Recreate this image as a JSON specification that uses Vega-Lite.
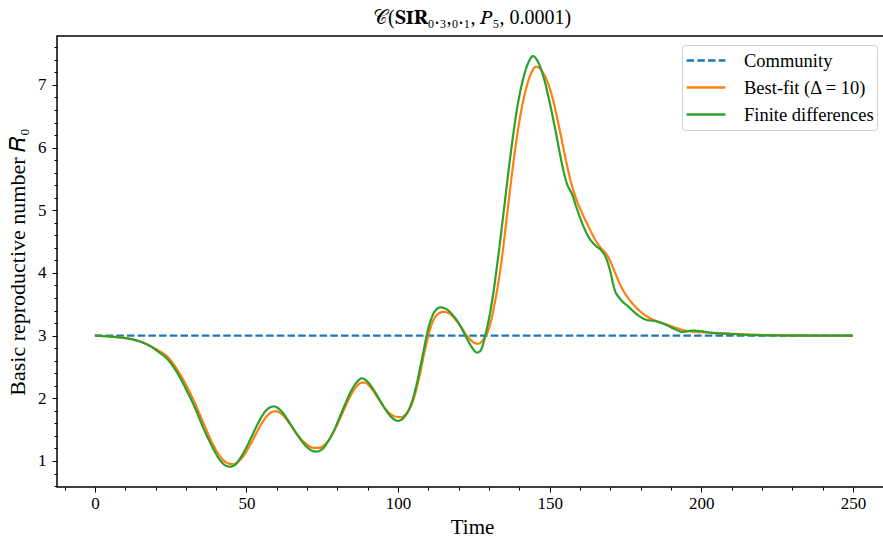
{
  "$schema": "https://vega.github.io/schema/vega-lite/v6.json",
  "autosize": {"type": "none"},
  "padding": {"left": 57, "top": 36, "right": 0, "bottom": 50},
  "width": 830,
  "height": 451,
  "background": "white",
  "config": {
    "view": {"stroke": "black", "strokeWidth": 1.5},
    "font": "Liberation Serif"
  },
  "title": {
    "text": "𝒞(𝐒𝐈𝐑₀.₃,₀.₁, 𝑃₅, 0.0001)",
    "font": "Liberation Serif",
    "fontSize": 20,
    "fontWeight": "normal",
    "anchor": "middle",
    "offset": 8,
    "color": "black"
  },
  "datasets": {
    "curves": [
      {"series": "Community", "t": 0, "R": 3.0},
      {"series": "Community", "t": 250, "R": 3.0},
      {"series": "Best-fit (Δ = 10)", "t": 0, "R": 3.0},
      {"series": "Best-fit (Δ = 10)", "t": 5, "R": 2.985},
      {"series": "Best-fit (Δ = 10)", "t": 10, "R": 2.96},
      {"series": "Best-fit (Δ = 10)", "t": 14, "R": 2.92},
      {"series": "Best-fit (Δ = 10)", "t": 18, "R": 2.84},
      {"series": "Best-fit (Δ = 10)", "t": 21, "R": 2.76},
      {"series": "Best-fit (Δ = 10)", "t": 24, "R": 2.66},
      {"series": "Best-fit (Δ = 10)", "t": 27, "R": 2.47},
      {"series": "Best-fit (Δ = 10)", "t": 30, "R": 2.22},
      {"series": "Best-fit (Δ = 10)", "t": 33, "R": 1.92},
      {"series": "Best-fit (Δ = 10)", "t": 36, "R": 1.58},
      {"series": "Best-fit (Δ = 10)", "t": 39, "R": 1.26},
      {"series": "Best-fit (Δ = 10)", "t": 42, "R": 1.03},
      {"series": "Best-fit (Δ = 10)", "t": 44, "R": 0.96},
      {"series": "Best-fit (Δ = 10)", "t": 45.5, "R": 0.95},
      {"series": "Best-fit (Δ = 10)", "t": 47, "R": 0.98},
      {"series": "Best-fit (Δ = 10)", "t": 49, "R": 1.08},
      {"series": "Best-fit (Δ = 10)", "t": 51, "R": 1.24},
      {"series": "Best-fit (Δ = 10)", "t": 53, "R": 1.42},
      {"series": "Best-fit (Δ = 10)", "t": 55, "R": 1.6},
      {"series": "Best-fit (Δ = 10)", "t": 57, "R": 1.73},
      {"series": "Best-fit (Δ = 10)", "t": 59, "R": 1.79},
      {"series": "Best-fit (Δ = 10)", "t": 60, "R": 1.79},
      {"series": "Best-fit (Δ = 10)", "t": 62, "R": 1.73},
      {"series": "Best-fit (Δ = 10)", "t": 64, "R": 1.61},
      {"series": "Best-fit (Δ = 10)", "t": 66, "R": 1.47},
      {"series": "Best-fit (Δ = 10)", "t": 68, "R": 1.35},
      {"series": "Best-fit (Δ = 10)", "t": 70, "R": 1.26},
      {"series": "Best-fit (Δ = 10)", "t": 72, "R": 1.21},
      {"series": "Best-fit (Δ = 10)", "t": 74, "R": 1.21},
      {"series": "Best-fit (Δ = 10)", "t": 76, "R": 1.27},
      {"series": "Best-fit (Δ = 10)", "t": 78, "R": 1.4},
      {"series": "Best-fit (Δ = 10)", "t": 80, "R": 1.59},
      {"series": "Best-fit (Δ = 10)", "t": 82, "R": 1.8},
      {"series": "Best-fit (Δ = 10)", "t": 84, "R": 2.01},
      {"series": "Best-fit (Δ = 10)", "t": 86, "R": 2.17},
      {"series": "Best-fit (Δ = 10)", "t": 88, "R": 2.25},
      {"series": "Best-fit (Δ = 10)", "t": 89, "R": 2.25},
      {"series": "Best-fit (Δ = 10)", "t": 91, "R": 2.17},
      {"series": "Best-fit (Δ = 10)", "t": 93, "R": 2.03},
      {"series": "Best-fit (Δ = 10)", "t": 95, "R": 1.88},
      {"series": "Best-fit (Δ = 10)", "t": 97, "R": 1.77},
      {"series": "Best-fit (Δ = 10)", "t": 99, "R": 1.71},
      {"series": "Best-fit (Δ = 10)", "t": 101, "R": 1.7},
      {"series": "Best-fit (Δ = 10)", "t": 103, "R": 1.77},
      {"series": "Best-fit (Δ = 10)", "t": 105, "R": 1.97},
      {"series": "Best-fit (Δ = 10)", "t": 107, "R": 2.34},
      {"series": "Best-fit (Δ = 10)", "t": 109, "R": 2.8},
      {"series": "Best-fit (Δ = 10)", "t": 111, "R": 3.17},
      {"series": "Best-fit (Δ = 10)", "t": 113, "R": 3.34},
      {"series": "Best-fit (Δ = 10)", "t": 115, "R": 3.38},
      {"series": "Best-fit (Δ = 10)", "t": 117, "R": 3.35},
      {"series": "Best-fit (Δ = 10)", "t": 119, "R": 3.25},
      {"series": "Best-fit (Δ = 10)", "t": 121, "R": 3.12},
      {"series": "Best-fit (Δ = 10)", "t": 123, "R": 2.98},
      {"series": "Best-fit (Δ = 10)", "t": 125, "R": 2.89},
      {"series": "Best-fit (Δ = 10)", "t": 126.5, "R": 2.87},
      {"series": "Best-fit (Δ = 10)", "t": 128, "R": 2.93},
      {"series": "Best-fit (Δ = 10)", "t": 130, "R": 3.12},
      {"series": "Best-fit (Δ = 10)", "t": 132, "R": 3.55},
      {"series": "Best-fit (Δ = 10)", "t": 134, "R": 4.15},
      {"series": "Best-fit (Δ = 10)", "t": 136, "R": 4.95},
      {"series": "Best-fit (Δ = 10)", "t": 138, "R": 5.75},
      {"series": "Best-fit (Δ = 10)", "t": 140, "R": 6.42},
      {"series": "Best-fit (Δ = 10)", "t": 142, "R": 6.9},
      {"series": "Best-fit (Δ = 10)", "t": 144, "R": 7.2},
      {"series": "Best-fit (Δ = 10)", "t": 145.5, "R": 7.29},
      {"series": "Best-fit (Δ = 10)", "t": 147, "R": 7.25},
      {"series": "Best-fit (Δ = 10)", "t": 149, "R": 7.08},
      {"series": "Best-fit (Δ = 10)", "t": 151, "R": 6.78},
      {"series": "Best-fit (Δ = 10)", "t": 153, "R": 6.35},
      {"series": "Best-fit (Δ = 10)", "t": 155, "R": 5.88},
      {"series": "Best-fit (Δ = 10)", "t": 157, "R": 5.45},
      {"series": "Best-fit (Δ = 10)", "t": 159, "R": 5.15},
      {"series": "Best-fit (Δ = 10)", "t": 161, "R": 4.92},
      {"series": "Best-fit (Δ = 10)", "t": 163, "R": 4.72},
      {"series": "Best-fit (Δ = 10)", "t": 165, "R": 4.53},
      {"series": "Best-fit (Δ = 10)", "t": 167, "R": 4.39},
      {"series": "Best-fit (Δ = 10)", "t": 169, "R": 4.28},
      {"series": "Best-fit (Δ = 10)", "t": 171, "R": 4.07},
      {"series": "Best-fit (Δ = 10)", "t": 173, "R": 3.84},
      {"series": "Best-fit (Δ = 10)", "t": 175, "R": 3.66},
      {"series": "Best-fit (Δ = 10)", "t": 177, "R": 3.53},
      {"series": "Best-fit (Δ = 10)", "t": 180, "R": 3.38},
      {"series": "Best-fit (Δ = 10)", "t": 183, "R": 3.28},
      {"series": "Best-fit (Δ = 10)", "t": 186, "R": 3.22},
      {"series": "Best-fit (Δ = 10)", "t": 189, "R": 3.17},
      {"series": "Best-fit (Δ = 10)", "t": 192, "R": 3.12},
      {"series": "Best-fit (Δ = 10)", "t": 195, "R": 3.08},
      {"series": "Best-fit (Δ = 10)", "t": 198, "R": 3.06},
      {"series": "Best-fit (Δ = 10)", "t": 202, "R": 3.05},
      {"series": "Best-fit (Δ = 10)", "t": 206, "R": 3.04},
      {"series": "Best-fit (Δ = 10)", "t": 210, "R": 3.03},
      {"series": "Best-fit (Δ = 10)", "t": 215, "R": 3.02},
      {"series": "Best-fit (Δ = 10)", "t": 220, "R": 3.01},
      {"series": "Best-fit (Δ = 10)", "t": 230, "R": 3.005},
      {"series": "Best-fit (Δ = 10)", "t": 240, "R": 3.0},
      {"series": "Best-fit (Δ = 10)", "t": 250, "R": 3.0},
      {"series": "Finite differences", "t": 0, "R": 3.0},
      {"series": "Finite differences", "t": 5, "R": 2.985},
      {"series": "Finite differences", "t": 10, "R": 2.96},
      {"series": "Finite differences", "t": 14, "R": 2.92},
      {"series": "Finite differences", "t": 18, "R": 2.84},
      {"series": "Finite differences", "t": 21, "R": 2.74},
      {"series": "Finite differences", "t": 24, "R": 2.62},
      {"series": "Finite differences", "t": 27, "R": 2.42},
      {"series": "Finite differences", "t": 30, "R": 2.15},
      {"series": "Finite differences", "t": 33, "R": 1.85},
      {"series": "Finite differences", "t": 36, "R": 1.5},
      {"series": "Finite differences", "t": 39, "R": 1.2},
      {"series": "Finite differences", "t": 41, "R": 1.03},
      {"series": "Finite differences", "t": 43, "R": 0.93},
      {"series": "Finite differences", "t": 44.5, "R": 0.91},
      {"series": "Finite differences", "t": 46, "R": 0.93},
      {"series": "Finite differences", "t": 48, "R": 1.05},
      {"series": "Finite differences", "t": 50, "R": 1.22},
      {"series": "Finite differences", "t": 52, "R": 1.42},
      {"series": "Finite differences", "t": 54, "R": 1.62},
      {"series": "Finite differences", "t": 56, "R": 1.78},
      {"series": "Finite differences", "t": 58, "R": 1.86},
      {"series": "Finite differences", "t": 59, "R": 1.87},
      {"series": "Finite differences", "t": 61, "R": 1.82},
      {"series": "Finite differences", "t": 63, "R": 1.7},
      {"series": "Finite differences", "t": 65, "R": 1.55},
      {"series": "Finite differences", "t": 67, "R": 1.4},
      {"series": "Finite differences", "t": 69, "R": 1.27},
      {"series": "Finite differences", "t": 71, "R": 1.18},
      {"series": "Finite differences", "t": 73, "R": 1.15},
      {"series": "Finite differences", "t": 75, "R": 1.19},
      {"series": "Finite differences", "t": 77, "R": 1.32},
      {"series": "Finite differences", "t": 79, "R": 1.5},
      {"series": "Finite differences", "t": 81, "R": 1.73},
      {"series": "Finite differences", "t": 83, "R": 1.96},
      {"series": "Finite differences", "t": 85, "R": 2.16},
      {"series": "Finite differences", "t": 87, "R": 2.29},
      {"series": "Finite differences", "t": 88, "R": 2.32},
      {"series": "Finite differences", "t": 90, "R": 2.26},
      {"series": "Finite differences", "t": 92, "R": 2.13},
      {"series": "Finite differences", "t": 94, "R": 1.97},
      {"series": "Finite differences", "t": 96, "R": 1.81},
      {"series": "Finite differences", "t": 98, "R": 1.69},
      {"series": "Finite differences", "t": 100, "R": 1.64},
      {"series": "Finite differences", "t": 102, "R": 1.7},
      {"series": "Finite differences", "t": 104, "R": 1.87},
      {"series": "Finite differences", "t": 106, "R": 2.2},
      {"series": "Finite differences", "t": 108, "R": 2.66},
      {"series": "Finite differences", "t": 110, "R": 3.12},
      {"series": "Finite differences", "t": 112, "R": 3.38},
      {"series": "Finite differences", "t": 114, "R": 3.45},
      {"series": "Finite differences", "t": 116, "R": 3.42},
      {"series": "Finite differences", "t": 118, "R": 3.33},
      {"series": "Finite differences", "t": 120, "R": 3.2},
      {"series": "Finite differences", "t": 122, "R": 3.02},
      {"series": "Finite differences", "t": 124, "R": 2.84},
      {"series": "Finite differences", "t": 126, "R": 2.73},
      {"series": "Finite differences", "t": 127, "R": 2.75},
      {"series": "Finite differences", "t": 129, "R": 3.05},
      {"series": "Finite differences", "t": 131, "R": 3.55},
      {"series": "Finite differences", "t": 133, "R": 4.25},
      {"series": "Finite differences", "t": 135, "R": 5.05},
      {"series": "Finite differences", "t": 137, "R": 5.85},
      {"series": "Finite differences", "t": 139, "R": 6.55},
      {"series": "Finite differences", "t": 141, "R": 7.05},
      {"series": "Finite differences", "t": 143, "R": 7.36},
      {"series": "Finite differences", "t": 144.5, "R": 7.46},
      {"series": "Finite differences", "t": 146, "R": 7.38},
      {"series": "Finite differences", "t": 148, "R": 7.12},
      {"series": "Finite differences", "t": 150, "R": 6.72},
      {"series": "Finite differences", "t": 152, "R": 6.25},
      {"series": "Finite differences", "t": 154, "R": 5.75},
      {"series": "Finite differences", "t": 155.5, "R": 5.45},
      {"series": "Finite differences", "t": 157.5, "R": 5.24},
      {"series": "Finite differences", "t": 159, "R": 5.02},
      {"series": "Finite differences", "t": 161, "R": 4.76},
      {"series": "Finite differences", "t": 163, "R": 4.56},
      {"series": "Finite differences", "t": 165, "R": 4.44},
      {"series": "Finite differences", "t": 167, "R": 4.36},
      {"series": "Finite differences", "t": 168.5, "R": 4.25},
      {"series": "Finite differences", "t": 170, "R": 4.02},
      {"series": "Finite differences", "t": 171.5, "R": 3.72},
      {"series": "Finite differences", "t": 173, "R": 3.6},
      {"series": "Finite differences", "t": 176, "R": 3.46},
      {"series": "Finite differences", "t": 179, "R": 3.33},
      {"series": "Finite differences", "t": 182, "R": 3.25},
      {"series": "Finite differences", "t": 185, "R": 3.23},
      {"series": "Finite differences", "t": 188, "R": 3.18},
      {"series": "Finite differences", "t": 191, "R": 3.11},
      {"series": "Finite differences", "t": 194, "R": 3.06},
      {"series": "Finite differences", "t": 197, "R": 3.08},
      {"series": "Finite differences", "t": 200, "R": 3.07},
      {"series": "Finite differences", "t": 204, "R": 3.04},
      {"series": "Finite differences", "t": 208, "R": 3.03},
      {"series": "Finite differences", "t": 212, "R": 3.02},
      {"series": "Finite differences", "t": 216, "R": 3.01},
      {"series": "Finite differences", "t": 222, "R": 3.005},
      {"series": "Finite differences", "t": 230, "R": 3.0},
      {"series": "Finite differences", "t": 240, "R": 3.0},
      {"series": "Finite differences", "t": 250, "R": 3.0}
    ]
  },
  "data": {"name": "curves"},
  "mark": {"type": "line", "strokeWidth": 2.2, "interpolate": "monotone", "clip": true},
  "encoding": {
    "x": {
      "field": "t",
      "type": "quantitative",
      "scale": {"domain": [-12.5, 261.25], "nice": false, "zero": false},
      "axis": {
        "title": "Time",
        "titleFont": "Liberation Serif",
        "titleFontSize": 21,
        "titleFontWeight": "normal",
        "titleColor": "black",
        "titlePadding": 5,
        "titleX": 415,
        "titleAnchor": "middle",
        "values": [-10, 0, 10, 20, 30, 40, 50, 60, 70, 80, 90, 100, 110, 120, 130, 140, 150, 160, 170, 180, 190, 200, 210, 220, 230, 240, 250, 260],
        "labelExpr": "datum.value % 50 === 0 ? format(datum.value, 'd') : ''",
        "labelFont": "Liberation Serif",
        "labelFontSize": 17,
        "labelColor": "black",
        "labelPadding": 3,
        "labelOverlap": false,
        "labelFlush": false,
        "tickSize": {"condition": {"test": "datum.value % 50 === 0", "value": 5}, "value": 3},
        "tickColor": "black",
        "tickWidth": 1,
        "domain": false,
        "grid": false
      }
    },
    "y": {
      "field": "R",
      "type": "quantitative",
      "scale": {"domain": [0.585, 7.78], "nice": false, "zero": false},
      "axis": {
        "title": "Basic reproductive number 𝑅₀",
        "titleFont": "Liberation Serif",
        "titleFontSize": 22,
        "titleFontWeight": "normal",
        "titleColor": "black",
        "titlePadding": 8,
        "values": [0.6, 0.8, 1, 1.2, 1.4, 1.6, 1.8, 2, 2.2, 2.4, 2.6, 2.8, 3, 3.2, 3.4, 3.6, 3.8, 4, 4.2, 4.4, 4.6, 4.8, 5, 5.2, 5.4, 5.6, 5.8, 6, 6.2, 6.4, 6.6, 6.8, 7, 7.2, 7.4, 7.6],
        "labelExpr": "abs(datum.value - round(datum.value)) < 0.01 ? format(round(datum.value), 'd') : ''",
        "labelFont": "Liberation Serif",
        "labelFontSize": 17,
        "labelColor": "black",
        "labelPadding": 6,
        "labelOverlap": false,
        "labelFlush": false,
        "tickSize": {"condition": {"test": "abs(datum.value - round(datum.value)) < 0.01", "value": 5}, "value": 3},
        "tickColor": "black",
        "tickWidth": 1,
        "domain": false,
        "grid": false
      }
    },
    "color": {
      "field": "series",
      "type": "nominal",
      "sort": null,
      "scale": {
        "domain": ["Community", "Best-fit (Δ = 10)", "Finite differences"],
        "range": ["#1f77b4", "#ff7f0e", "#2ca02c"]
      },
      "legend": {
        "title": null,
        "orient": "none",
        "legendX": 625,
        "legendY": 9,
        "symbolType": "stroke",
        "symbolSize": 1500,
        "symbolStrokeWidth": 2.5,
        "labelFont": "Liberation Serif",
        "labelFontSize": 18.5,
        "labelColor": "black",
        "labelOffset": 17,
        "clipHeight": 25,
        "rowPadding": 2,
        "padding": 3,
        "fillColor": "white",
        "strokeColor": "#d0d0d0",
        "cornerRadius": 3
      }
    },
    "strokeDash": {
      "field": "series",
      "type": "nominal",
      "sort": null,
      "scale": {
        "domain": ["Community", "Best-fit (Δ = 10)", "Finite differences"],
        "range": [[7.5, 3.2], [1, 0], [1, 0]]
      },
      "legend": {
        "title": null,
        "orient": "none",
        "legendX": 625,
        "legendY": 9,
        "symbolType": "stroke",
        "symbolSize": 1500,
        "symbolStrokeWidth": 2.5,
        "labelFont": "Liberation Serif",
        "labelFontSize": 18.5,
        "labelColor": "black",
        "labelOffset": 17,
        "clipHeight": 25,
        "rowPadding": 2,
        "padding": 3,
        "fillColor": "white",
        "strokeColor": "#d0d0d0",
        "cornerRadius": 3
      }
    }
  }
}
